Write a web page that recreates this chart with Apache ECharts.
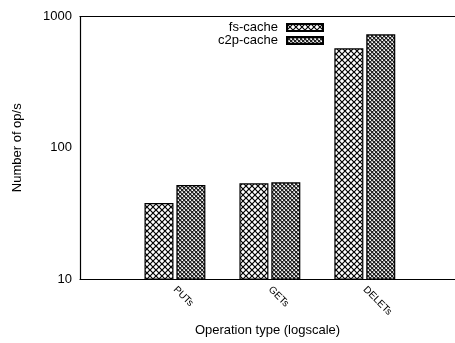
<!DOCTYPE html>
<html>
<head>
<meta charset="utf-8">
<script src="https://cdn.jsdelivr.net/npm/echarts@6/dist/echarts.min.js"></script>
<style>html,body{margin:0;padding:0;background:#fff}#c{width:455px;height:343px}</style>
</head>
<body>
<div id="c"></div>
<script>
const categories = ['PUTs', 'GETs', 'DELETs'];
const fsCache = [37.9, 53.6, 572];
const c2pCache = [52.0, 54.5, 731];
const yTicks = [10, 100, 1000];

function makeCross() {
  const c = document.createElement('canvas');
  c.width = 6; c.height = 6;
  const g = c.getContext('2d');
  g.fillStyle = '#fff'; g.fillRect(0, 0, 6, 6);
  g.strokeStyle = '#000'; g.lineWidth = 1.2;
  g.beginPath();
  g.moveTo(-1, -1); g.lineTo(7, 7);
  g.moveTo(7, -1); g.lineTo(-1, 7);
  g.stroke();
  return c;
}
function makeDense() {
  const c = document.createElement('canvas');
  c.width = 4; c.height = 4;
  const g = c.getContext('2d');
  g.fillStyle = '#a8a8a8'; g.fillRect(0, 0, 4, 4);
  g.strokeStyle = '#000'; g.lineWidth = 0.8;
  g.beginPath();
  g.moveTo(-1, -1); g.lineTo(5, 5);
  g.moveTo(5, -1); g.lineTo(-1, 5);
  g.stroke();
  g.fillStyle = '#fff';
  g.fillRect(2, 0, 1, 1);
  g.fillRect(0, 2, 1, 1);
  return c;
}

const font = 'Liberation Sans';
const chart = echarts.init(document.getElementById('c'), null, {renderer: 'canvas'});
chart.setOption({
  animation: false,
  backgroundColor: '#fff',
  textStyle: {fontFamily: font, color: '#000'},
  grid: {left: 80, right: 0, top: 16.5, bottom: 64},
  legend: {
    orient: 'vertical', right: 131, top: 21, align: 'right',
    padding: 0,
    icon: 'rect',
    itemWidth: 36, itemHeight: 7, itemGap: 0,
    selectedMode: false,
    textStyle: {fontFamily: font, fontSize: 13, color: '#000', width: 64, align: 'right', lineHeight: 13, padding: [0, 4, 0, 0]},
    data: ['fs-cache', 'c2p-cache']
  },
  xAxis: [{
    type: 'value', min: -1, max: 2.95, interval: 1,
    name: 'Operation type (logscale)', nameLocation: 'middle', nameGap: 37,
    nameTextStyle: {fontFamily: font, fontSize: 13, color: '#000'},
    axisLine: {show: true, onZero: false, lineStyle: {color: '#000', width: 1.2}},
    axisTick: {show: false},
    splitLine: {show: false},
    axisLabel: {
      rotate: -45, fontSize: 10, color: '#000', fontFamily: font, margin: 9,
      showMaxLabel: false,
      formatter: v => (Number.isInteger(v) && v >= 0 && v < categories.length) ? categories[v] : ''
    }
  }, {
    type: 'value', position: 'top', min: -1, max: 2.95,
    axisLine: {show: true, onZero: false, lineStyle: {color: '#000', width: 1.2}},
    axisTick: {show: false}, axisLabel: {show: false}, splitLine: {show: false}
  }],
  yAxis: {
    type: 'log', logBase: 10, min: 10, max: 1000,
    name: 'Number of op/s', nameLocation: 'middle', nameGap: 56,
    nameTextStyle: {fontFamily: font, fontSize: 13, color: '#000'},
    axisLine: {show: true, onZero: false, lineStyle: {color: '#000', width: 1.2}},
    axisTick: {show: false},
    splitLine: {show: false},
    axisLabel: {fontSize: 13, color: '#000', fontFamily: font, margin: 8,
      formatter: v => yTicks.indexOf(Math.round(v)) >= 0 ? String(Math.round(v)) : ''}
  },
  series: [{
    name: 'fs-cache', type: 'bar', barWidth: 29, barGap: '10%',
    data: fsCache.map((v, i) => [i, v]),
    itemStyle: {color: {image: makeCross(), repeat: 'repeat'}, borderColor: '#000', borderWidth: 1.2}
  }, {
    name: 'c2p-cache', type: 'bar', barWidth: 29, barGap: '10%',
    data: c2pCache.map((v, i) => [i, v]),
    itemStyle: {color: {image: makeDense(), repeat: 'repeat'}, borderColor: '#000', borderWidth: 1.2}
  }]
});
</script>
</body>
</html>
